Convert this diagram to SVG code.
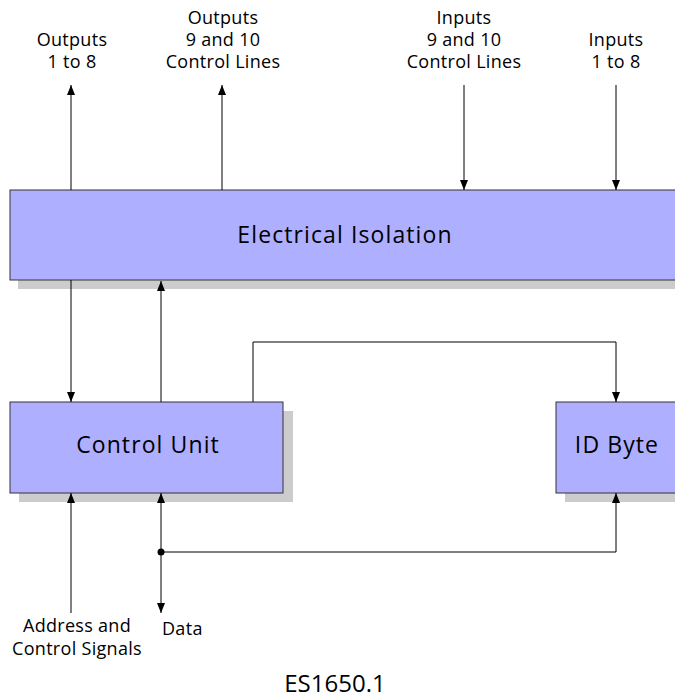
<svg xmlns="http://www.w3.org/2000/svg" width="675" height="698" viewBox="0 0 675 698">
  <style>
    .box { fill: #afafff; stroke: #333333; stroke-width: 1; }
    .shadow { fill: #cccccc; stroke: none; }
    .big { font-family: "Open Sans", "Noto Sans", sans-serif; font-size: 23px; letter-spacing: 1.1px; fill: #000; text-anchor: middle; }
    .lbl { font-family: "Open Sans", "Noto Sans", sans-serif; font-size: 18px; letter-spacing: 0.3px; fill: #000; text-anchor: middle; }
    .fig { font-family: "Open Sans", "Noto Sans", sans-serif; font-size: 24px; fill: #000; text-anchor: middle; }
    .wire { fill: none; stroke: #000; stroke-width: 1; }
  </style>
  <defs>
    <marker id="arrow" viewBox="0 0 10 8" refX="10" refY="4" markerWidth="10" markerHeight="8" markerUnits="userSpaceOnUse" orient="auto-start-reverse">
      <path d="M0,0 L10,4 L0,8 Z" fill="#000"/>
    </marker>
  </defs>
  <rect width="675" height="698" fill="#ffffff"/>

  <g id="electrical-isolation">
    <rect class="shadow" x="18" y="198" width="670" height="91"/>
    <rect class="box" x="10" y="190" width="680" height="90"/>
    <text class="big" x="345" y="243">Electrical Isolation</text>
  </g>

  <g id="control-unit">
    <rect class="shadow" x="19" y="411" width="274" height="91"/>
    <rect class="box" x="10" y="402" width="273" height="91"/>
    <text class="big" x="148" y="453">Control Unit</text>
  </g>

  <g id="id-byte">
    <rect class="shadow" x="565" y="411" width="130" height="91"/>
    <rect class="box" x="556" y="402" width="130" height="91"/>
    <text class="big" x="617" y="453">ID Byte</text>
  </g>

  <g id="labels">
    <text class="lbl" x="72" y="46">Outputs</text>
    <text class="lbl" x="72" y="68">1 to 8</text>
    <text class="lbl" x="223" y="24">Outputs</text>
    <text class="lbl" x="223" y="46">9 and 10</text>
    <text class="lbl" x="223" y="68">Control Lines</text>
    <text class="lbl" x="464" y="24">Inputs</text>
    <text class="lbl" x="464" y="46">9 and 10</text>
    <text class="lbl" x="464" y="68">Control Lines</text>
    <text class="lbl" x="616" y="46">Inputs</text>
    <text class="lbl" x="616" y="68">1 to 8</text>
    <text class="lbl" x="77" y="632">Address and</text>
    <text class="lbl" x="77" y="655">Control Signals</text>
    <text class="lbl" x="162" y="635" style="text-anchor:start">Data</text>
    <text class="fig" x="335" y="692">ES1650.1</text>
  </g>

  <g id="connectors">
    <line class="wire" x1="71" y1="190" x2="71" y2="85" marker-end="url(#arrow)"/>
    <line class="wire" x1="222" y1="190" x2="222" y2="85" marker-end="url(#arrow)"/>
    <line class="wire" x1="464" y1="85" x2="464" y2="190" marker-end="url(#arrow)"/>
    <line class="wire" x1="616" y1="85" x2="616" y2="190" marker-end="url(#arrow)"/>
    <line class="wire" x1="71" y1="280" x2="71" y2="402" marker-end="url(#arrow)"/>
    <line class="wire" x1="161" y1="402" x2="161" y2="281" marker-end="url(#arrow)"/>
    <path class="wire" d="M253,402 V342 H616 V402" marker-end="url(#arrow)"/>
    <line class="wire" x1="71" y1="613" x2="71" y2="493" marker-end="url(#arrow)"/>
    <line class="wire" x1="161" y1="493" x2="161" y2="613" marker-start="url(#arrow)" marker-end="url(#arrow)"/>
    <path class="wire" d="M161,552 H616 V493" marker-end="url(#arrow)"/>
    <circle cx="161" cy="552" r="3.5" fill="#000"/>
  </g>
</svg>
